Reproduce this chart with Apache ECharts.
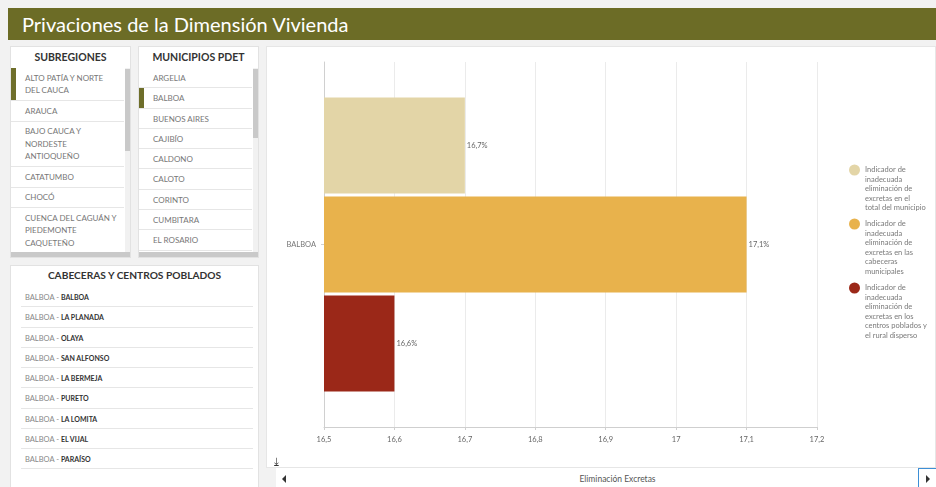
<!DOCTYPE html>
<html>
<head>
<meta charset="utf-8">
<script src="https://cdn.jsdelivr.net/npm/echarts@6/dist/echarts.min.js"></script>
<style>
  html, body { margin:0; padding:0; width:936px; height:487px; overflow:hidden; background:#f2f2f2; font-family: Lato, "Open Sans", sans-serif; }
  .abs { position:absolute; box-sizing:border-box; }
  #header { left:8px; top:8px; width:928px; height:32px; background:#6c6c26; color:#fff; font-size:20px; line-height:32px; padding-left:14px; font-weight:400; }
  .panel { background:#fff; border:1px solid #e2e2e2; }
  .ptitle { position:absolute; left:0; right:0; text-align:center; font-weight:700; color:#333; font-size:10.5px; }
  .list { position:absolute; left:0; right:6px; }
  .item { font-size:8px; color:#777; border-bottom:1px solid #e6e6e6; padding-left:14px; box-sizing:border-box; position:relative; }
  .sub .item { line-height:12.5px; padding-top:3.5px; padding-bottom:3.5px; }
  .mun .item { height:20.3px; line-height:20px; }
  .sel::before { content:""; position:absolute; left:-1px; top:0; bottom:0; width:6px; background:#6e6e2a; }
  .vscroll { position:absolute; right:0; width:5px; background:#f1f1f1; }
  .thumb { position:absolute; left:0; width:5px; background:#c9c9c9; }
  .hscroll { position:absolute; left:0; right:0; height:5px; background:#c9c9c9; }
  .cab .item { height:20.25px; line-height:20px; padding-left:4px; margin:0 5px 0 10px; font-size:7.5px; color:#888; }
  .cab .item b { color:#333; font-size:7px; font-weight:700; }
</style>
</head>
<body>
<div id="header" class="abs">Privaciones de la Dimensión Vivienda</div>

<div id="subPanel" class="abs panel sub" style="left:10px;top:46px;width:121px;height:212px;overflow:hidden;">
  <div class="ptitle" style="top:4px;">SUBREGIONES</div>
  <div class="list" id="subList" style="top:21px;"></div>
  <div class="vscroll" style="top:21px;height:185px;"><div class="thumb" style="top:1px;height:82px;"></div></div>
  <div class="hscroll" style="top:205px;"></div>
</div>

<div id="munPanel" class="abs panel mun" style="left:138px;top:46px;width:121px;height:212px;overflow:hidden;">
  <div class="ptitle" style="top:4px;">MUNICIPIOS PDET</div>
  <div class="list" id="munList" style="top:21px;"></div>
  <div class="vscroll" style="top:21px;height:185px;"><div class="thumb" style="top:1px;height:69px;"></div></div>
  <div class="hscroll" style="top:205px;"></div>
</div>

<div id="cabPanel" class="abs panel cab" style="left:10px;top:265px;width:249px;height:230px;">
  <div class="ptitle" style="top:3px;font-size:10.2px;">CABECERAS Y CENTROS POBLADOS</div>
  <div id="cabList" style="position:absolute;left:0;right:0;top:21px;"></div>
</div>

<div id="chartPanel" class="abs" style="left:266px;top:46px;width:670px;height:422px;background:#fff;border:1px solid #e6e6e6;"></div>
<div id="chart" class="abs" style="left:266px;top:46px;width:670px;height:422px;"></div>
<div class="abs" style="left:274px;top:454px;font-size:11px;color:#333;">&#x2913;</div>
<div class="abs" style="left:276px;top:468px;width:660px;height:19px;background:#fff;"></div>
<div class="abs" style="left:282px;top:475px;width:0;height:0;border-top:4px solid transparent;border-bottom:4px solid transparent;border-right:4px solid #333;"></div>
<div class="abs" style="left:560px;top:474px;width:115px;text-align:center;font-size:8.5px;color:#555;">Eliminación Excretas</div>
<div class="abs" style="left:918px;top:468px;width:20px;height:21px;border:1px solid #3d8fd6;background:#fff;"></div>
<div class="abs" style="left:926px;top:475px;width:0;height:0;border-top:4px solid transparent;border-bottom:4px solid transparent;border-left:4px solid #333;"></div>

<script>
// ---- data ----
const subregiones = ["ALTO PATÍA Y NORTE<br>DEL CAUCA", "ARAUCA", "BAJO CAUCA Y<br>NORDESTE<br>ANTIOQUEÑO", "CATATUMBO", "CHOCÓ", "CUENCA DEL CAGUÁN Y<br>PIEDEMONTE<br>CAQUETEÑO"];
const municipios = ["ARGELIA", "BALBOA", "BUENOS AIRES", "CAJIBÍO", "CALDONO", "CALOTO", "CORINTO", "CUMBITARA", "EL ROSARIO"];
const cabeceras = ["BALBOA", "LA PLANADA", "OLAYA", "SAN ALFONSO", "LA BERMEJA", "PURETO", "LA LOMITA", "EL VIJAL", "PARAÍSO"];

const categories = ["BALBOA"];
const seriesNames = [
  "Indicador de inadecuada eliminación de excretas en el total del municipio",
  "Indicador de inadecuada eliminación de excretas en las cabeceras municipales",
  "Indicador de inadecuada eliminación de excretas en los centros poblados y el rural disperso"
];
const legendLabels = [
  "Indicador de\ninadecuada\neliminación de\nexcretas en el\ntotal del municipio",
  "Indicador de\ninadecuada\neliminación de\nexcretas en las\ncabeceras\nmunicipales",
  "Indicador de\ninadecuada\neliminación de\nexcretas en los\ncentros poblados y\nel rural disperso"
];
const totalMunicipio = [16.7];
const cabecerasMun = [17.1];
const centrosPoblados = [16.6];
const xTicks = { min: 16.5, max: 17.2, interval: 0.1 };
const colors = ["#e3d5a7", "#e8b24c", "#9b2818"];

// ---- side lists ----
document.getElementById('subList').innerHTML = subregiones.map((s,i)=>`<div class="item${i===0?' sel':''}">${s}</div>`).join('');
document.getElementById('munList').innerHTML = municipios.map((s,i)=>`<div class="item${i===1?' sel':''}">${s}</div>`).join('');
document.getElementById('cabList').innerHTML = cabeceras.map(s=>`<div class="item">BALBOA - <b>${s}</b></div>`).join('');

// ---- chart ----
const chart = echarts.init(document.getElementById('chart'), null, {renderer:'canvas'});
const fmt = v => String(+v.toFixed(2)).replace('.', ',');
const valuesList = [totalMunicipio, cabecerasMun, centrosPoblados];
const lh = 9.5;
const iconCenters = [124, 178, 242];
const legends = seriesNames.map((n, i) => {
  const lines = legendLabels[i].split('\n').length;
  // leading blank lines so the first text line sits level with the marker
  const txt = '\n'.repeat(lines - 1) + legendLabels[i];
  return {
    data: [n], orient: 'vertical', left: 583, top: iconCenters[i] - (2 * lines - 1) * lh / 2, padding: 0,
    itemWidth: 11, itemHeight: 11, icon: 'circle', selectedMode: false,
    formatter: () => txt,
    textStyle: { fontSize: 7.5, lineHeight: lh, color: '#7a7a7a', fontFamily: 'Lato' }
  };
});
chart.setOption({
  animation: false,
  color: colors,
  grid: { left: 58, right: 119, top: 16, bottom: 41, containLabel: false },
  legend: legends,
  xAxis: {
    type: 'value', min: xTicks.min, max: xTicks.max, interval: xTicks.interval,
    axisLine: { show: true, lineStyle: { color: '#cfcfcf' } },
    axisTick: { show: true, length: 3, lineStyle: { color: '#cfcfcf' } },
    axisLabel: { formatter: fmt, fontSize: 7.5, color: '#666', margin: 9, fontFamily: 'Lato' },
    splitLine: { show: true, lineStyle: { color: '#ebebeb' } }
  },
  yAxis: {
    type: 'category', data: categories,
    axisLine: { show: true, lineStyle: { color: '#d0d0d0' } },
    axisTick: { show: true, length: 3, alignWithLabel: true, lineStyle: { color: '#d0d0d0' } },
    axisLabel: { fontSize: 7.5, color: '#777', margin: 8, fontFamily: 'Lato' },
    splitLine: { show: false }
  },
  series: seriesNames.map((n, i) => ({
    name: n, type: 'bar', data: valuesList[i],
    barCategoryGap: '19.5%', barGap: '3%',
    itemStyle: { color: colors[i] },
    label: { show: true, position: 'right', distance: 2, fontSize: 7.5, color: '#666', fontFamily: 'Lato',
             formatter: p => fmt(p.value) + '%' }
  }))
});
</script>
</body>
</html>
